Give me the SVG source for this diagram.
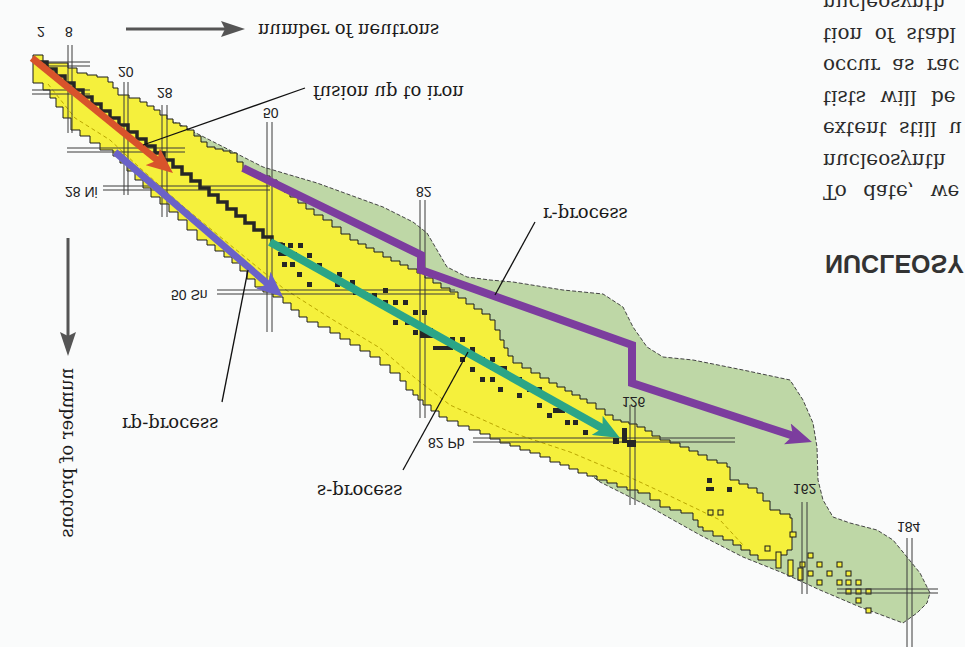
<svg xmlns="http://www.w3.org/2000/svg" width="965" height="647" viewBox="0 0 965 647">
<defs>
<style>
.lbl{font-family:"DejaVu Serif","Liberation Serif",serif;font-size:18px;fill:#1a1a1a}
.num{font-family:"Liberation Sans",Arial,sans-serif;font-size:14px;fill:#222}
.para{font-family:"DejaVu Serif","Liberation Serif",serif;font-size:20px;fill:#2b2b2b}
.head{font-family:"Liberation Sans",Arial,sans-serif;font-weight:bold;font-size:25px;fill:#333}
.mg{stroke:#3a3a3a;stroke-width:1;fill:none}
.ld{stroke:#111;stroke-width:1.3;fill:none}
.sq{fill:#262626}
</style>
<marker id="hRed" markerUnits="userSpaceOnUse" markerWidth="26" markerHeight="22" refX="10" refY="11" orient="auto"><path d="M0,0 L26,11 L0,22 L6,11 Z" fill="#d8532b"/></marker>
<marker id="hBlue" markerUnits="userSpaceOnUse" markerWidth="26" markerHeight="22" refX="10" refY="11" orient="auto"><path d="M0,0 L26,11 L0,22 L6,11 Z" fill="#6b62c8"/></marker>
<marker id="hGreen" markerUnits="userSpaceOnUse" markerWidth="26" markerHeight="22" refX="10" refY="11" orient="auto"><path d="M0,0 L26,11 L0,22 L6,11 Z" fill="#2ba587"/></marker>
<marker id="hPurple" markerUnits="userSpaceOnUse" markerWidth="26" markerHeight="22" refX="10" refY="11" orient="auto"><path d="M0,0 L26,11 L0,22 L6,11 Z" fill="#7c3d9e"/></marker>
<marker id="hGray" markerUnits="userSpaceOnUse" markerWidth="24" markerHeight="16" refX="8" refY="8" orient="auto"><path d="M0,0 L24,8 L0,16 L4,8 Z" fill="#555"/></marker>
</defs>
<rect width="965" height="647" fill="#fafbfb"/>

<g id="r-region">
<path d="M170,120 L190,130 L263,167 L317,183 L383,207 L413,222 L427,233 L437,250 L447,267 L467,277 L490,280 L513,282 L563,290 L603,294 L623,307 L633,327 L647,347 L663,357 L693,360 L743,370 L790,380 L803,400 L813,423 L817,447 L818,480 L823,500 L833,517 L850,523 L877,530 L893,540 L907,557 L920,573 L930,593 L927,603 L917,613 L903,623 L860,607 L820,590 L783,573 L743,557 L700,535 L650,507 L600,482 L400,330 L200,160 Z" fill="#bed7a6" stroke="#444" stroke-width="1" stroke-dasharray="4,2"/>
</g>

<g id="known-nuclei">
<path d="M33,55 h10v8 h15 h10v5h9v5 h10v2h10v2 h11v5 h5v6h5v7 h11v3h11v4 h7v4h7v4h6v5 h7v4h6v4 h7v3h7v4 h7v6h7v6h6v5 h8v2h8v2h7v2 h7v9h6v8 h9v3h9v3h9v4 h7v6h7v6h6v5 h8v6h8v6h8v6h9v5 h9v7h9v7h9v6 h8v4h8v4h8v4h9v5 h8v4h9v4h8v4h9v4 h8v5h8v5h8v5h9v4 h8v6h8v6h8v5h8v5h8v6 h5v10h5v10 h4v8h4v8h5v7 h9v5h9v5h9v5h9v5h8v4 h8v4h7v4h8v4h7v4 h9v6h9v6h8v5 h8v2h8v2h8v3 h8v4h7v5h8v4 h10v3h10v4 h9v4h9v4h9v5 h10v3h10v4 h3v13 h9v4h9v4h9v5 h6v8h7v9 h10v4h10v4 h2v9 v23h-5 v5h-10v5h-10 h-9v-5h-8v-5h-9v-5h-8v-5 h-10v-4h-10v-5h-10v-4 h-5v-7h-5v-7 h-12v-3h-11v-3 h-10v-7h-10v-7 h-12v-3h-11v-3 h-10v-4h-10v-3h-10v-4h-10v-3 h-9v-4h-9v-4h-9v-3 h-10v-5h-10v-4 h-10v-3h-10v-4h-10v-3 h-10v-4h-10v-5h-10v-4 h-11v-4h-11v-5h-11v-4 h-8v-6h-8v-6h-8v-5 h-5v-5h-5v-5 h-7v-9h-6v-8 h-10v-8h-10v-8 h-10v-6h-10v-6h-10v-6h-10v-6h-10v-6 h-12v-5h-11v-5 h-8v-7h-8v-7h-8v-6 h-10v-5h-10v-5 h-8v-8h-8v-8h-7v-8 h-8v-6h-8v-6h-9v-6h-8v-5 h-10v-10h-10v-10 h-9v-8h-9v-8h-9v-7 h-9v-9h-8v-8 h-8v-9h-8v-8 h-7v-7h-7v-6 h-13v-7 h-10v-7h-10v-6 h-9v-12h-8v-11 h-7v-9h-6v-8 h-7v-7 h-10v-23 Z" fill="#f5f03c" stroke="#1a1a1a" stroke-width="1"/>
<polyline points="48,84 75,118 110,140 140,168 185,208 240,253 283,288 330,318 380,348 415,378 450,405 510,432 570,452 627,476 670,496 720,520 743,545" fill="none" stroke="#b9a600" stroke-width="1" stroke-dasharray="4,3"/>
<g fill="#f5f03c" stroke="#1a1a1a" stroke-width="1">
<rect x="708" y="510" width="5" height="5"/><rect x="718" y="510" width="5" height="5"/>
<rect x="790" y="532" width="6" height="5"/><rect x="765" y="546" width="5" height="5"/>
<rect x="776" y="552" width="5" height="16"/><rect x="788" y="560" width="5" height="16"/>
<rect x="798" y="568" width="5" height="12"/>
<rect x="808" y="553" width="5" height="5"/><rect x="800" y="562" width="5" height="5"/>
<rect x="808" y="571" width="5" height="5"/><rect x="817" y="562" width="5" height="5"/>
<rect x="817" y="580" width="5" height="5"/><rect x="827" y="571" width="5" height="5"/>
<rect x="837" y="562" width="5" height="5"/><rect x="837" y="580" width="5" height="5"/>
<rect x="846" y="571" width="5" height="5"/><rect x="846" y="580" width="5" height="5"/>
<rect x="856" y="580" width="5" height="5"/><rect x="846" y="589" width="5" height="5"/>
<rect x="856" y="589" width="5" height="5"/><rect x="866" y="589" width="5" height="5"/>
<rect x="856" y="598" width="5" height="5"/><rect x="866" y="608" width="5" height="5"/>
</g>
</g>

<g id="magic-lines">
<path class="mg" d="M68,45V133 M72,45V133 M124,82V195 M128,82V195 M162,105V217 M167,105V217 M267,122V332 M272,122V332 M420,200V418 M425,200V418 M630,405V505 M635,405V505 M802,502V594 M807,502V594 M907,538V647 M912,538V647"/>
<path class="mg" d="M43,62H90 M43,66H90 M32,90H90 M32,94H90 M67,148H185 M67,152H185 M103,186H270 M103,190H270 M217,290H455 M217,294H455 M473,438H735 M473,442H735 M837,589H938 M837,593H938"/>
</g>

<g id="stable-valley">
<path d="M38,62 h9v7h9v7h9v7h9v7h9v7h9v7h9v7h9v7h9v7h9v7h9v7h9v7h9v7h9v7h9v7h9v7h9v7h9v7h9v7h9v7h9v7h9v7h9v7h9v7h9v7h9v7h9v7" fill="none" stroke="#262626" stroke-width="3.5"/>
<path class="sq" d="M280,243h5v5h-5z M288,243h5v5h-5z M298,243h5v5h-5z M278,252h19v4h-19z M307,253h5v5h-5z M282,262h5v5h-5z M290,262h5v5h-5z M317,263h5v5h-5z M297,272h5v5h-5z M307,282h5v5h-5z M327,272h5v5h-5z M337,272h5v5h-5z M335,282h5v5h-5z M350,280h5v5h-5z M353,290h5v5h-5z M363,292h5v5h-5z M372,293h5v5h-5z M383,288h5v5h-5z M383,300h5v5h-5z M393,300h5v5h-5z M403,300h5v5h-5z M422,310h5v5h-5z M413,310h5v5h-5z M393,320h5v5h-5z M405,320h5v5h-5z M413,330h5v5h-5z M420,328h13v10h-13z M433,346h20v4h-20z M450,337h5v5h-5z M460,337h5v5h-5z M470,347h5v5h-5z M460,357h5v5h-5z M470,367h5v5h-5z M480,357h5v5h-5z M490,357h5v5h-5z M480,377h5v5h-5z M490,377h5v5h-5z M490,366h17v4h-17z M498,387h5v5h-5z M517,377h5v5h-5z M527,387h5v5h-5z M537,387h5v5h-5z M517,393h5v5h-5z M537,403h5v5h-5z M547,413h5v5h-5z M553,408h12v5h-12z M565,420h5v5h-5z M573,420h5v5h-5z M583,416h5v5h-5z M583,430h5v5h-5z M613,438h6v6h-6z M622,428h5v15h-5z M627,440h9v7h-9z M707,478h5v5h-5z M706,487h8v4h-8z M727,487h5v5h-5z"/>
</g>

<g id="connectors">
<line x1="32" y1="58" x2="160.6" y2="162.9" stroke="#d8532b" stroke-width="7" marker-end="url(#hRed)"/>
<line x1="115" y1="152" x2="270.9" y2="286.6" stroke="#6b62c8" stroke-width="7" marker-end="url(#hBlue)"/>
<line x1="270" y1="242" x2="606" y2="430.2" stroke="#2ba587" stroke-width="8" marker-end="url(#hGreen)"/>
<polyline points="243,168 421,255 421,270 632,345 632,383 796.8,437" fill="none" stroke="#7c3d9e" stroke-width="8" stroke-linejoin="miter" marker-end="url(#hPurple)"/>
<line x1="126" y1="29" x2="229" y2="29" stroke="#555" stroke-width="3" marker-end="url(#hGray)"/>
<line x1="68" y1="238" x2="68" y2="340" stroke="#555" stroke-width="3" marker-end="url(#hGray)"/>
<line class="ld" x1="143" y1="145" x2="305" y2="88"/>
<line class="ld" x1="535" y1="222" x2="495" y2="295"/>
<line class="ld" x1="222" y1="402" x2="248" y2="270"/>
<line class="ld" x1="403" y1="470" x2="468" y2="352"/>
</g>

<g id="labels">
<text class="lbl" transform="matrix(1 0 0 -1 258 24)">number of neutrons</text>
<text class="lbl" transform="matrix(0 1 1 0 73 368)">number of protons</text>
<text class="lbl" transform="matrix(1 0 0 -1 313 86)">fusion up to iron</text>
<text class="lbl" transform="matrix(1 0 0 -1 543 208)">r-process</text>
<text class="lbl" transform="matrix(1 0 0 -1 122 418)">rp-process</text>
<text class="lbl" transform="matrix(1 0 0 -1 317 485)">s-process</text>
<text class="num" transform="matrix(1 0 0 -1 37 27)">2</text>
<text class="num" transform="matrix(1 0 0 -1 65 27)">8</text>
<text class="num" transform="matrix(1 0 0 -1 118 67)">20</text>
<text class="num" transform="matrix(1 0 0 -1 157 88)">28</text>
<text class="num" transform="matrix(1 0 0 -1 263 108)">50</text>
<text class="num" transform="matrix(1 0 0 -1 416 187)">82</text>
<text class="num" transform="matrix(1 0 0 -1 622 397)">126</text>
<text class="num" transform="matrix(1 0 0 -1 793 484)">162</text>
<text class="num" transform="matrix(1 0 0 -1 897 522)">184</text>
<text class="num" transform="matrix(1 0 0 -1 65 187)">28 Ni</text>
<text class="num" transform="matrix(1 0 0 -1 171 290)">50 Sn</text>
<text class="num" transform="matrix(1 0 0 -1 428 438)">82 Pb</text>
</g>

<g id="page-text">
<text class="para" transform="matrix(1 0 0 -1 823 -4)">nucleosynth</text>
<text class="para" transform="matrix(1 0 0 -1 823 27.5)" word-spacing="6">tion of stabl</text>
<text class="para" transform="matrix(1 0 0 -1 823 59)" word-spacing="6">occur as rac</text>
<text class="para" transform="matrix(1 0 0 -1 823 90.5)" word-spacing="8">tists will be</text>
<text class="para" transform="matrix(1 0 0 -1 823 122)" word-spacing="6">extent still u</text>
<text class="para" transform="matrix(1 0 0 -1 823 153.5)">nucleosynth</text>
<text class="para" transform="matrix(1 0 0 -1 823 185)" word-spacing="10">To date, we</text>
<text class="head" transform="matrix(1 0 0 -1 825 255)">NUCLEOSY</text>
</g>
</svg>
